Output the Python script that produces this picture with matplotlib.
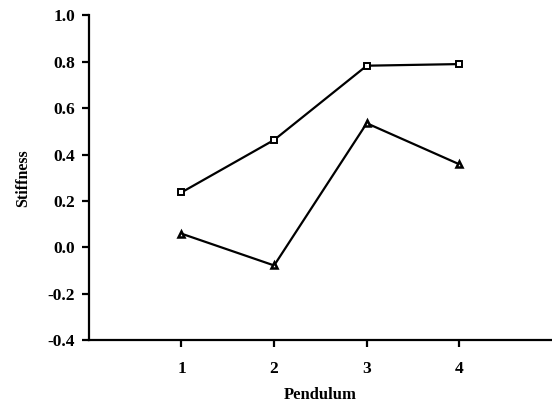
import matplotlib.pyplot as plt

pendulum = [1, 2, 3, 4]
stiffness_square = [0.237, 0.463, 0.783, 0.790]
stiffness_triangle = [0.059, -0.078, 0.535, 0.358]

plt.rcParams['font.family'] = ['Liberation Serif', 'DejaVu Serif']

fig = plt.figure(figsize=(5.52, 4.04), dpi=100)
ax = fig.add_axes([0.161, 0.158, 0.839, 0.804])

ax.plot(pendulum, stiffness_square, '-', color='black', lw=1.6,
        marker='s', ms=4.5, mfc='white', mec='black', mew=1.4)
ax.plot(pendulum, stiffness_triangle, '-', color='black', lw=1.6,
        marker='^', ms=5, mfc='white', mec='black', mew=1.8)

ax.set_xlim(0, 5)
ax.set_ylim(-0.4, 1.0)
ax.set_xticks(pendulum)
ax.set_yticks([-0.4, -0.2, 0.0, 0.2, 0.4, 0.6, 0.8, 1.0])
ax.set_yticklabels(['-0.4', '-0.2', '0.0', '0.2', '0.4', '0.6', '0.8', '1.0'])

for s in ['top', 'right']:
    ax.spines[s].set_visible(False)
for s in ['left', 'bottom']:
    ax.spines[s].set_linewidth(1.6)

ax.tick_params(direction='out', length=5, width=1.6, labelsize=12.5)
ax.tick_params(axis='x', pad=10)
ax.tick_params(axis='y', pad=5)
for lab in ax.get_xticklabels() + ax.get_yticklabels():
    lab.set_fontweight('semibold')

ax.set_xlabel('Pendulum', fontsize=12, fontweight='bold', labelpad=7)
ax.set_ylabel('Stiffness', fontsize=11.5, fontweight='bold', labelpad=12)

fig.savefig('out.png', dpi=100)
